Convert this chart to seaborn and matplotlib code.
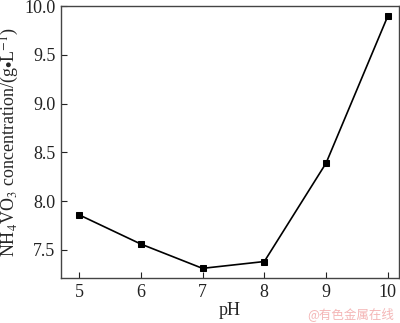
import numpy as np
import pandas as pd
import matplotlib
matplotlib.use("Agg")
import matplotlib.pyplot as plt
import seaborn as sns

ph = [5, 6, 7, 8, 9, 10]
concentration = [7.86, 7.56, 7.31, 7.38, 8.39, 9.90]
x_ticks = [5, 6, 7, 8, 9, 10]
y_ticks = [7.5, 8.0, 8.5, 9.0, 9.5, 10.0]

sns.set_style("ticks")
plt.rcParams['font.family'] = ['Liberation Serif', 'DejaVu Serif']
plt.rcParams['mathtext.fontset'] = 'stix'

data = pd.DataFrame({"pH": ph, "conc": concentration})

fig = plt.figure(figsize=(4.0, 3.23), dpi=100)
ax = fig.add_axes([0.1525, 0.139, 0.845, 0.842])

sns.lineplot(data=data, x="pH", y="conc", ax=ax, color="black", linewidth=1.2,
             marker="s", markersize=4.5, markeredgecolor="black")

ax.set_xlim(4.71, 10.18)
ax.set_ylim(7.21, 10.0)
ax.set_xticks(x_ticks)
ax.set_yticks(y_ticks)
ax.set_xticklabels([str(v) for v in x_ticks])
ax.set_yticklabels(["%.1f" % v for v in y_ticks])
ax.tick_params(direction="in", length=4, width=0.8, labelsize=13, colors="#222222", pad=4)
for s in ax.spines.values():
    s.set_visible(True)
    s.set_linewidth(1.0)
    s.set_color("#444444")

ax.set_xlabel("pH", fontsize=13, labelpad=1)
ax.set_ylabel(r"NH$_4$VO$_3$ concentration/(g$\bullet$L$^{-1}$)", fontsize=13, labelpad=2)

fig.text(0.985, 0.005, "@有色金属在线", ha="right", va="bottom", fontsize=9,
         color="#f4b6b6", family=['Noto Sans CJK SC', 'DejaVu Sans'])

fig.savefig("out.png", dpi=100)
